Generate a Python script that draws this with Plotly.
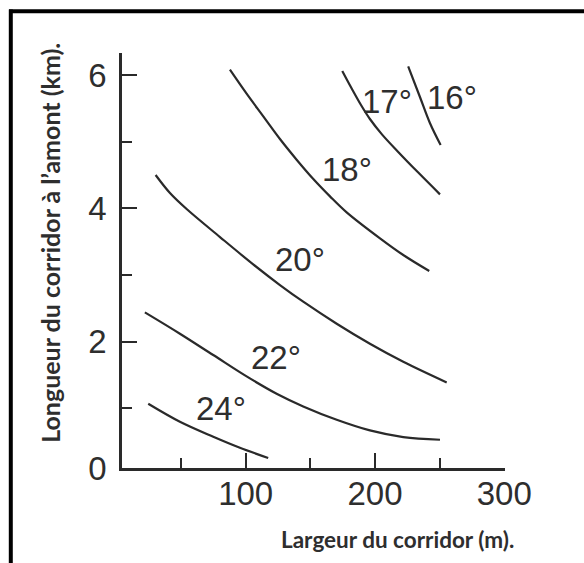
import plotly.graph_objects as go

# ---- data ----
c16_x = [225.7, 234.8, 242.5, 250.8]
c16_y = [6.13, 5.67, 5.28, 4.95]

c17_x = [174.7, 182.2, 189.2, 196.1, 205.4, 217.8, 233.3, 250.3]
c17_y = [6.06, 5.79, 5.55, 5.34, 5.11, 4.85, 4.54, 4.21]

c18_x = [87.8, 100.7, 113.6, 126.5, 139.4, 152.3, 165.2, 178.1, 203.9, 221.9, 242.0]
c18_y = [6.08, 5.72, 5.38, 5.04, 4.73, 4.44, 4.18, 3.94, 3.55, 3.30, 3.06]

c20_x = [30.3, 41.4, 54.3, 80.1, 105.8, 126.5, 144.5, 170.4, 196.1, 221.9, 255.5]
c20_y = [4.50, 4.23, 3.99, 3.57, 3.16, 2.85, 2.60, 2.27, 1.97, 1.70, 1.39]

c22_x = [22.0, 49.1, 74.9, 100.7, 123.9, 144.5, 170.4, 196.1, 221.9, 250.3]
c22_y = [2.44, 2.12, 1.80, 1.48, 1.22, 1.03, 0.83, 0.67, 0.57, 0.53]

c24_x = [24.6, 49.1, 74.9, 95.5, 117.4]
c24_y = [1.07, 0.80, 0.575, 0.41, 0.256]

labels = ["16°", "17°", "18°", "20°", "22°", "24°"]
label_x = [259.3, 209.0, 178.1, 142.0, 123.2, 80.7]
label_y = [5.67, 5.60, 4.59, 3.23, 1.77, 0.995]

x_tick_vals = [100, 200, 300]
x_tick_text = ["100", "200", "300"]
y_tick_vals = [0, 2, 4, 6]
y_tick_text = ["0", "2", "4", "6"]

x_title = "Largeur du corridor (m)."
y_title = "Longueur du corridor à l’amont (km)."

# ---- layout geometry ----
W, H = 584, 563
L, R, T, B = 122, 505, 53, 468.3
X_RANGE = [4.3, 300.6]
Y_RANGE = [0.106, 6.33]

def px_to_paper_x(px):
    return (px - L) / (R - L)

def px_to_paper_y(py):
    return (B - py) / (B - T)

LINE_COL = "#2a2a2a"
TEXT_COL = "#2e2e2e"
NUM_FONT = dict(family="Liberation Sans, Arial, sans-serif", size=33, color=TEXT_COL)
XT_FONT = dict(family="Lato, Noto Sans, sans-serif", size=22.5, color=TEXT_COL, weight="bold")
YT_FONT = dict(family="Lato, Noto Sans, sans-serif", size=25, color=TEXT_COL, weight="bold")

fig = go.Figure()
for xs, ys in [(c16_x, c16_y), (c17_x, c17_y), (c18_x, c18_y),
               (c20_x, c20_y), (c22_x, c22_y), (c24_x, c24_y)]:
    fig.add_trace(go.Scatter(x=xs, y=ys, mode="lines",
                             line=dict(color=LINE_COL, width=2.2, shape="spline", smoothing=1.0),
                             showlegend=False, hoverinfo="skip"))

for t, lx, ly in zip(labels, label_x, label_y):
    fig.add_annotation(x=lx, y=ly, text=t, showarrow=False, font=NUM_FONT,
                       xanchor="center", yanchor="middle")

# y tick at "0" sits on the x axis line (lower end of the range)
y_tick_pos = [Y_RANGE[0] if v == 0 else v for v in y_tick_vals]

fig.update_layout(
    width=W, height=H,
    margin=dict(l=L, r=W - R, t=T, b=H - B),
    paper_bgcolor="white", plot_bgcolor="white",
    showlegend=False,
    xaxis=dict(range=X_RANGE, showgrid=False, zeroline=False,
               showline=True, linecolor=LINE_COL, linewidth=2.5,
               tickmode="array", tickvals=x_tick_vals, ticktext=x_tick_text,
               ticks="inside", ticklen=15, tickwidth=2, tickcolor=LINE_COL,
               tickfont=NUM_FONT, ticklabelstandoff=-5,
               minor=dict(dtick=50, tick0=0, ticks="inside", ticklen=10,
                          tickwidth=2, tickcolor=LINE_COL, showgrid=False)),
    yaxis=dict(range=Y_RANGE, showgrid=False, zeroline=False,
               showline=True, linecolor=LINE_COL, linewidth=2.5,
               tickmode="array", tickvals=y_tick_pos, ticktext=y_tick_text,
               ticks="inside", ticklen=15, tickwidth=2, tickcolor=LINE_COL,
               tickfont=NUM_FONT, ticklabelstandoff=6,
               minor=dict(dtick=1, tick0=0, ticks="inside", ticklen=10,
                          tickwidth=2, tickcolor=LINE_COL, showgrid=False)),
)

fig.add_annotation(xref="paper", yref="paper", x=px_to_paper_x(397), y=px_to_paper_y(540),
                   text=x_title, showarrow=False, font=XT_FONT,
                   xanchor="center", yanchor="middle")
fig.add_annotation(xref="paper", yref="paper", x=px_to_paper_x(50), y=px_to_paper_y(243),
                   text=y_title, showarrow=False, font=YT_FONT, textangle=-90,
                   xanchor="center", yanchor="middle")

# black frame (top and left edges)
fig.add_shape(type="line", xref="paper", yref="paper",
              x0=px_to_paper_x(9), x1=px_to_paper_x(W + 2),
              y0=px_to_paper_y(11.3), y1=px_to_paper_y(11.3),
              line=dict(color="black", width=4))
fig.add_shape(type="line", xref="paper", yref="paper",
              x0=px_to_paper_x(10.8), x1=px_to_paper_x(10.8),
              y0=px_to_paper_y(9.5), y1=px_to_paper_y(H + 2),
              line=dict(color="black", width=4))

fig.write_html("out.html", config={"displayModeBar": False},
               post_script="document.body.style.margin='0';")
